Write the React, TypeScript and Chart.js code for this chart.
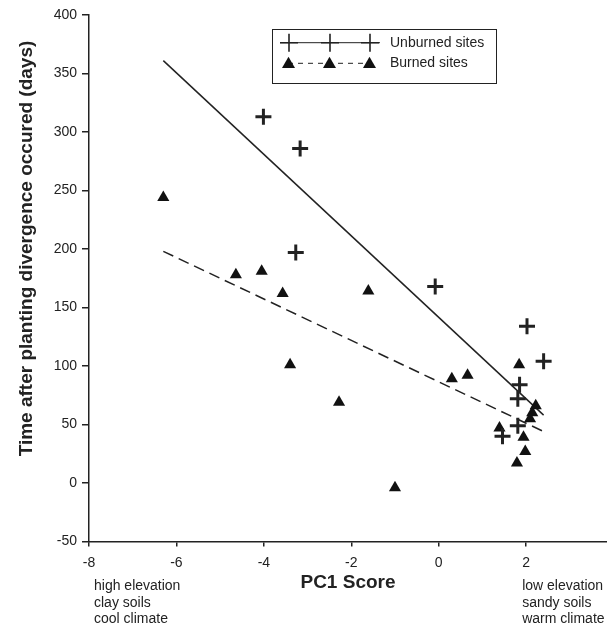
import { useEffect, useRef } from "react";
import { Chart, registerables } from "chart.js";

Chart.register(...registerables);

// ---- data ----
const unburnedX = [-4.01, -3.17, -3.27, -0.08, 2.02, 2.4, 1.85, 1.81, 1.81, 1.46];
const unburnedY = [313, 286, 197, 168, 134, 104, 84, 72, 49, 40];

const burnedX = [-6.3, -4.64, -4.05, -3.57, -1.61, -3.4, -2.28, 0.3, 0.66, -1.0, 1.84, 2.22, 2.14, 2.09, 1.39, 1.94, 1.98, 1.79];
const burnedY = [244, 178, 181, 162, 164, 101, 69, 89, 92, -4, 101, 66, 60, 55, 47, 39, 27, 17];

const fitX = [-6.3, 2.4];
const unburnedFitY = [361, 58];
const burnedFitY = [198, 44];

const seriesLabels = ["Unburned sites", "Burned sites"];
const xTitle = "PC1 Score";
const yTitle = "Time after planting divergence occured (days)";
const leftNotes = ["high elevation", "clay soils", "cool climate"];
const rightNotes = ["low elevation", "sandy soils", "warm climate"];

const xMin = -8;
const xMax = 3.85;
const xStep = 2;
const yMin = -50;
const yMax = 400;
const yStep = 50;

const FONT = "'Liberation Sans', Arial, Helvetica, sans-serif";
const INK = "#222222";

function pts(xs: number[], ys: number[]) {
  return xs.map((x, i) => ({ x, y: ys[i] }));
}

function drawCross(ctx: CanvasRenderingContext2D, x: number, y: number, r: number) {
  ctx.beginPath();
  ctx.moveTo(x - r, y);
  ctx.lineTo(x + r, y);
  ctx.moveTo(x, y - r);
  ctx.lineTo(x, y + r);
  ctx.stroke();
}

function drawTriangle(ctx: CanvasRenderingContext2D, x: number, y: number, r: number) {
  ctx.beginPath();
  ctx.moveTo(x, y - r);
  ctx.lineTo(x + r * Math.sin(Math.PI / 3), y + r / 2);
  ctx.lineTo(x - r * Math.sin(Math.PI / 3), y + r / 2);
  ctx.closePath();
  ctx.fill();
}

const annotatePlugin = {
  id: "annotate",
  afterDraw(chart: any) {
    const ctx: CanvasRenderingContext2D = chart.ctx;
    const xs = chart.scales.x;
    const area = chart.chartArea;

    // Y axis title
    ctx.save();
    ctx.font = `bold 19px ${FONT}`;
    ctx.fillStyle = INK;
    ctx.translate(27, 248.5);
    ctx.rotate(-Math.PI / 2);
    ctx.textAlign = "center";
    ctx.textBaseline = "middle";
    ctx.fillText(yTitle, 0, 0);
    ctx.restore();

    // notes under the x axis
    ctx.save();
    ctx.font = `14px ${FONT}`;
    ctx.fillStyle = INK;
    ctx.textAlign = "left";
    ctx.textBaseline = "middle";
    const lx = xs.getPixelForValue(-8) + 5;
    const rx = xs.getPixelForValue(2) - 4;
    const offs = [44.5, 61.5, 77.5];
    leftNotes.forEach((t, i) => ctx.fillText(t, lx, area.bottom + offs[i]));
    rightNotes.forEach((t, i) => ctx.fillText(t, rx, area.bottom + offs[i]));
    ctx.restore();

    // legend box
    ctx.save();
    const bx = 272, by = 29, bw = 224, bh = 54;
    ctx.fillStyle = "#ffffff";
    ctx.fillRect(bx, by, bw, bh);
    ctx.strokeStyle = INK;
    ctx.lineWidth = 1;
    ctx.strokeRect(bx + 0.5, by + 0.5, bw, bh);

    const row1 = 42.7, row2 = 63.3;
    const mx = [289, 330, 370];
    // unburned
    ctx.strokeStyle = INK;
    ctx.lineWidth = 1;
    ctx.beginPath();
    ctx.moveTo(280, row1);
    ctx.lineTo(380, row1);
    ctx.stroke();
    ctx.lineWidth = 1.6;
    mx.forEach((x) => drawCross(ctx, x, row1, 9));
    // burned
    ctx.lineWidth = 1;
    ctx.setLineDash([5, 5]);
    ctx.beginPath();
    ctx.moveTo(288, row2);
    ctx.lineTo(370, row2);
    ctx.stroke();
    ctx.setLineDash([]);
    ctx.fillStyle = "#111111";
    mx.forEach((x) => drawTriangle(ctx, x - 0.5, row2 + 1, 7.5));

    ctx.fillStyle = INK;
    ctx.font = `14px ${FONT}`;
    ctx.textAlign = "left";
    ctx.textBaseline = "middle";
    ctx.fillText(seriesLabels[0], 390, row1);
    ctx.fillText(seriesLabels[1], 390, row2);
    ctx.restore();
  },
};

export default function App() {
  const canvasRef = useRef<HTMLCanvasElement | null>(null);

  useEffect(() => {
    document.body.style.margin = "0";
    const canvas = canvasRef.current;
    if (!canvas) return;
    const chart = new Chart(canvas, {
      type: "scatter",
      data: {
        datasets: [
          {
            label: seriesLabels[0],
            data: pts(unburnedX, unburnedY),
            pointStyle: "cross",
            pointRadius: 8,
            pointBorderWidth: 3,
            borderColor: INK,
            backgroundColor: INK,
            order: 0,
          },
          {
            label: seriesLabels[1],
            data: pts(burnedX, burnedY),
            pointStyle: "triangle",
            pointRadius: 7,
            pointBorderWidth: 0,
            borderWidth: 0,
            borderColor: "#111111",
            backgroundColor: "#111111",
            order: 1,
          },
          {
            label: seriesLabels[0] + " fit",
            data: pts(fitX, unburnedFitY),
            showLine: true,
            pointRadius: 0,
            borderColor: INK,
            borderWidth: 1.5,
            fill: false,
            order: 2,
          },
          {
            label: seriesLabels[1] + " fit",
            data: pts(fitX, burnedFitY),
            showLine: true,
            pointRadius: 0,
            borderColor: INK,
            borderWidth: 1.5,
            borderDash: [11, 6],
            fill: false,
            order: 3,
          },
        ],
      },
      options: {
        responsive: false,
        animation: false,
        events: [],
        layout: { autoPadding: false, padding: { top: 15, left: 0, right: 0, bottom: 0 } },
        plugins: {
          legend: { display: false },
          tooltip: { enabled: false },
          title: { display: false },
        },
        scales: {
          x: {
            type: "linear",
            position: "bottom",
            min: xMin,
            max: xMax,
            bounds: "data",
            afterFit: (s: any) => {
              s.height = 87.5;
              s.paddingLeft = 0;
              s.paddingRight = 0;
            },
            border: { display: true, color: INK, width: 1.5 },
            grid: {
              drawOnChartArea: false,
              drawTicks: true,
              tickLength: 5,
              color: INK,
              lineWidth: 1.5,
            },
            ticks: {
              stepSize: xStep,
              includeBounds: false,
              padding: 8,
              maxRotation: 0,
              color: INK,
              font: { family: FONT, size: 14 },
            },
            title: {
              display: true,
              text: xTitle,
              color: INK,
              font: { family: FONT, size: 19, weight: "bold" },
              padding: { top: 0, bottom: 35 },
            },
          },
          y: {
            type: "linear",
            position: "left",
            min: yMin,
            max: yMax,
            afterFit: (s: any) => {
              s.width = 89;
              s.paddingTop = 0;
              s.paddingBottom = 0;
            },
            border: { display: true, color: INK, width: 1.5 },
            grid: {
              drawOnChartArea: false,
              drawTicks: true,
              tickLength: 7,
              color: INK,
              lineWidth: 1.5,
            },
            ticks: {
              stepSize: yStep,
              padding: 5,
              color: INK,
              font: { family: FONT, size: 14 },
            },
          },
        },
      },
      plugins: [annotatePlugin],
    });
    return () => chart.destroy();
  }, []);

  return (
    <div style={{ width: 607, height: 629, position: "relative" }}>
      <canvas ref={canvasRef} width={607} height={629} style={{ display: "block" }} />
    </div>
  );
}
